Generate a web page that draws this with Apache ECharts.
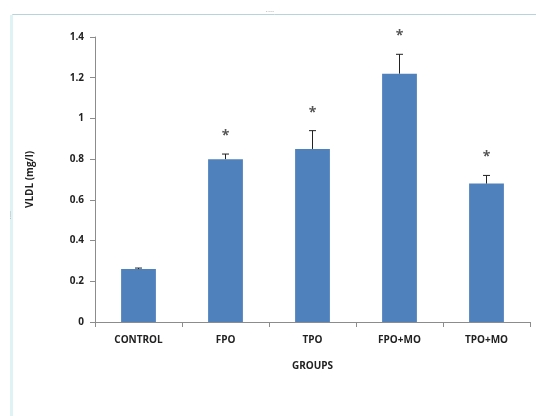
<!DOCTYPE html>
<html>
<head>
<meta charset="utf-8">
<script src="https://cdn.jsdelivr.net/npm/echarts@6/dist/echarts.min.js"></script>
<style>
  html, body { margin: 0; padding: 0; background: #fff; }
  #chart { width: 536px; height: 416px; }
</style>
</head>
<body>
<div id="chart"></div>
<script>
  // groups and VLDL values
  var groups = ['CONTROL', 'FPO', 'TPO', 'FPO+MO', 'TPO+MO'];
  var vldl = [0.26, 0.80, 0.85, 1.22, 0.68];
  var errors = [0.005, 0.025, 0.09, 0.095, 0.04];
  var stars = ['', '*', '*', '*', '*'];

  var errData = [];
  for (var i = 0; i < groups.length; i++) {
    errData.push([i, vldl[i], vldl[i] + errors[i], stars[i]]);
  }

  var myChart = echarts.init(document.getElementById('chart'));
  var font = 'Open Sans';

  myChart.setOption({
    animation: false,
    graphic: [{
      // the frame of the sheet around the chart
      type: 'rect',
      shape: { x: 12.5, y: 14.5, width: 540, height: 420 },
      style: { fill: 'none', stroke: '#b7d4dc', lineWidth: 1 },
      z: -1
    }, {
      type: 'rect',
      shape: { x: 10, y: 15, width: 3, height: 420 },
      style: { fill: '#dff3f5' },
      z: -1
    }, {
      // little resize handles
      type: 'text',
      style: { text: '····', x: 270, y: 12, fill: '#999', font: '8px "Open Sans"', align: 'center', verticalAlign: 'middle' }
    }, {
      type: 'text',
      rotation: Math.PI / 2,
      x: 11, y: 215,
      style: { text: '····', fill: '#999', font: '8px "Open Sans"', align: 'center', verticalAlign: 'middle' }
    }],
    grid: {
      left: 95,
      right: 6,
      top: 37,
      bottom: 94
    },
    xAxis: {
      type: 'category',
      data: groups,
      name: 'GROUPS',
      nameLocation: 'middle',
      nameGap: 39,
      nameTextStyle: { fontFamily: font, fontWeight: 'bold', fontSize: 10, color: '#222' },
      axisLine: { lineStyle: { color: '#8c8c8c' } },
      axisTick: { show: true, length: 5, lineStyle: { color: '#8c8c8c' } },
      axisLabel: { fontFamily: font, fontWeight: 'bold', fontSize: 10, color: '#222', margin: 13 }
    },
    yAxis: {
      type: 'value',
      min: 0,
      max: 1.4,
      interval: 0.2,
      name: 'VLDL (mg/l)',
      nameLocation: 'middle',
      nameGap: 60,
      nameTextStyle: { fontFamily: font, fontWeight: 'bold', fontSize: 10, color: '#222' },
      axisLine: { show: true, lineStyle: { color: '#8c8c8c' } },
      axisTick: { show: true, length: 5, lineStyle: { color: '#8c8c8c' } },
      splitLine: { show: false },
      axisLabel: {
        fontFamily: font, fontWeight: 'bold', fontSize: 10, color: '#222', margin: 11,
        formatter: function (v) { return String(Math.round(v * 10) / 10); }
      }
    },
    series: [{
      type: 'bar',
      data: vldl,
      barWidth: '40%',
      itemStyle: { color: '#4f81bd' }
    }, {
      type: 'custom',
      data: errData,
      z: 5,
      renderItem: function (params, api) {
        var base = api.coord([api.value(0), api.value(1)]);
        var top = api.coord([api.value(0), api.value(2)]);
        var x = base[0];
        var children = [{
          type: 'line',
          shape: { x1: x, y1: base[1], x2: x, y2: top[1] },
          style: { stroke: '#222', lineWidth: 1 }
        }, {
          type: 'line',
          shape: { x1: x - 3.5, y1: top[1], x2: x + 3.5, y2: top[1] },
          style: { stroke: '#222', lineWidth: 1 }
        }];
        var star = stars[params.dataIndex];
        if (star) {
          children.push({
            type: 'text',
            style: {
              text: star, x: x, y: top[1] - 18,
              fill: '#555', font: 'bold 14px "Open Sans"',
              align: 'center', verticalAlign: 'middle'
            }
          });
        }
        return { type: 'group', children: children };
      }
    }]
  });
</script>
</body>
</html>
